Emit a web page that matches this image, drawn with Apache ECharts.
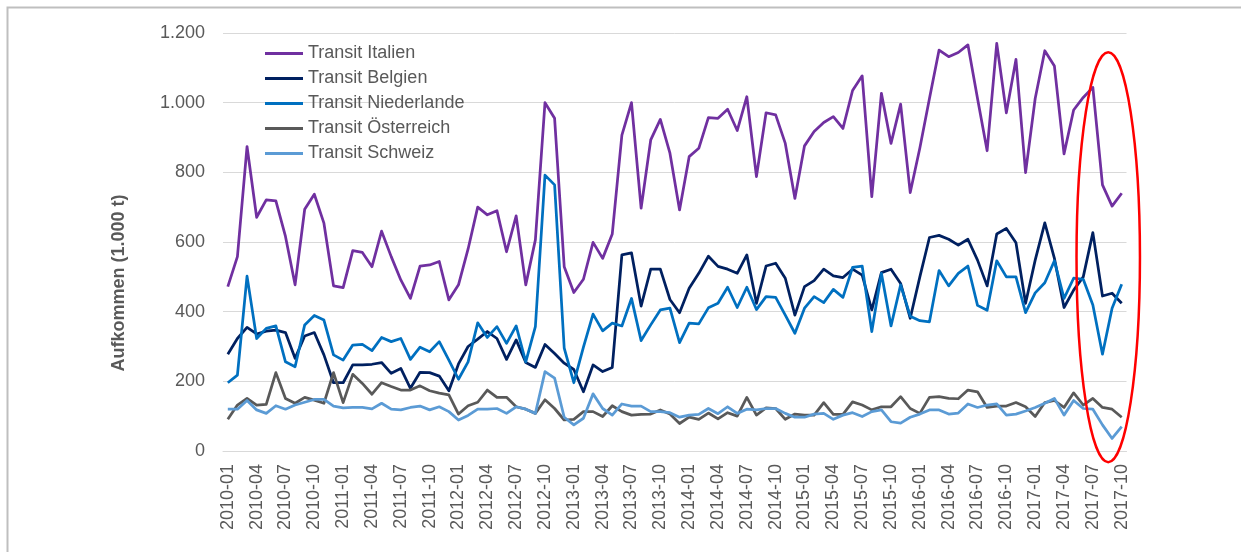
<!DOCTYPE html>
<html>
<head>
<meta charset="utf-8">
<script src="https://cdn.jsdelivr.net/npm/echarts@6/dist/echarts.min.js"></script>
<style>
  html, body { margin: 0; padding: 0; background: #ffffff; }
  #chart { width: 1241px; height: 552px; }
</style>
</head>
<body>
<div id="chart"></div>
<script>
// Monthly categories 2010-01 … 2017-10
const firstYear = 2010;
const monthCount = 94;
const months = [];
for (let i = 0; i < monthCount; i++) {
  const y = firstYear + Math.floor(i / 12);
  const m = (i % 12) + 1;
  months.push(y + '-' + (m < 10 ? '0' + m : m));
}

const seriesNames = ['Transit Italien', 'Transit Belgien', 'Transit Niederlande', 'Transit Österreich', 'Transit Schweiz'];

// Aufkommen in 1.000 t
const italien = [472, 558, 874, 671, 721, 718, 616, 477, 694, 737, 654, 474,
  469, 575, 570, 529, 631, 558, 491, 438, 531, 534, 544, 434,
  477, 580, 700, 678, 690, 572, 675, 477, 606, 1000, 955, 529,
  455, 493, 599, 553, 623, 907, 1000, 697, 893, 952, 855, 692,
  845, 869, 957, 955, 981, 920, 1017, 788, 971, 965, 883, 725,
  876, 917, 943, 960, 926, 1035, 1077, 730, 1027, 883, 996, 742,
  870, 1012, 1151, 1132, 1144, 1166, 1012, 862, 1170, 971, 1124, 799,
  1012, 1149, 1105, 853, 979, 1015, 1044, 764, 703, 740];

const belgien = [278, 323, 355, 336, 344, 347, 340, 266, 330, 340, 276, 196,
  196, 247, 247, 249, 254, 223, 237, 180, 226, 225, 215, 173,
  250, 300, 321, 343, 323, 263, 319, 254, 240, 306, 280, 252,
  234, 170, 247, 228, 240, 563, 569, 416, 522, 522, 435, 397,
  467, 510, 559, 530, 522, 510, 563, 424, 531, 539, 496, 390,
  472, 489, 522, 503, 498, 522, 505, 405, 512, 522, 481, 381,
  500, 613, 619, 608, 591, 608, 548, 474, 623, 639, 598, 424,
  548, 655, 553, 412, 462, 500, 627, 445, 453, 424];

const niederlande = [196, 218, 502, 323, 352, 359, 256, 242, 362, 389, 376, 276,
  261, 304, 306, 288, 326, 314, 323, 263, 298, 285, 314, 261,
  206, 256, 368, 326, 357, 309, 359, 256, 357, 792, 764, 295,
  196, 298, 393, 345, 367, 359, 438, 317, 362, 405, 410, 311,
  367, 365, 411, 424, 470, 412, 470, 406, 443, 441, 390, 338,
  410, 443, 426, 464, 441, 527, 531, 343, 510, 359, 477, 387,
  374, 371, 518, 474, 510, 531, 418, 404, 546, 500, 500, 397,
  454, 483, 546, 438, 496, 493, 419, 278, 410, 479];

const oesterreich = [91, 132, 151, 132, 134, 225, 151, 137, 154, 146, 137, 225,
  139, 220, 194, 163, 196, 185, 175, 175, 187, 173, 166, 161,
  106, 130, 140, 175, 154, 154, 127, 120, 108, 147, 122, 89,
  91, 113, 113, 99, 130, 113, 103, 105, 106, 118, 106, 79,
  97, 91, 109, 92, 110, 100, 154, 103, 124, 122, 91, 106,
  103, 103, 139, 105, 105, 141, 132, 118, 127, 127, 156, 122,
  108, 154, 156, 151, 150, 175, 170, 125, 129, 129, 139, 127,
  99, 139, 145, 125, 167, 132, 151, 125, 120, 97];

const schweiz = [120, 120, 145, 118, 108, 130, 120, 132, 140, 148, 148, 129,
  124, 125, 125, 121, 137, 120, 118, 125, 129, 118, 127, 113,
  89, 102, 120, 120, 122, 108, 127, 120, 108, 228, 209, 97,
  75, 94, 164, 122, 103, 135, 129, 129, 113, 113, 110, 97,
  103, 105, 122, 107, 127, 108, 120, 118, 122, 122, 108, 97,
  97, 106, 108, 91, 103, 110, 99, 113, 118, 84, 80, 97,
  106, 118, 118, 106, 109, 135, 125, 132, 135, 103, 106, 115,
  125, 137, 151, 103, 145, 122, 120, 75, 36, 70];

const seriesData = [italien, belgien, niederlande, oesterreich, schweiz];
const colors = ['#7030a0', '#002060', '#0070c0', '#595959', '#5b9bd5'];

const yMin = 0, yMax = 1200, yStep = 200;
const axisTitle = 'Aufkommen (1.000 t)';

const textColor = '#595959';
const fontFamily = '"Liberation Sans", Arial, sans-serif';

function formatDe(v) {
  return String(v).replace(/\B(?=(\d{3})+(?!\d))/g, '.');
}

const chart = echarts.init(document.getElementById('chart'), null, { renderer: 'canvas' });

const option = {
  backgroundColor: '#ffffff',
  animation: false,
  color: colors,
  grid: { left: 223, top: 33, right: 114.5, bottom: 101, containLabel: false },
  legend: {
    orient: 'vertical',
    left: 260,
    top: 36,
    icon: 'rect',
    itemWidth: 38,
    itemHeight: 3,
    itemGap: 0,
    textStyle: { color: textColor, fontSize: 18, fontFamily: fontFamily, lineHeight: 25 },
    data: seriesNames
  },
  xAxis: {
    type: 'category',
    data: months,
    boundaryGap: true,
    axisTick: { show: false },
    axisLine: { show: true, lineStyle: { color: '#d9d9d9', width: 1 } },
    axisLabel: {
      interval: 2,
      rotate: 90,
      margin: 13,
      color: textColor,
      fontSize: 18,
      fontFamily: fontFamily
    },
    splitLine: { show: false }
  },
  yAxis: {
    type: 'value',
    min: yMin,
    max: yMax,
    interval: yStep,
    axisLine: { show: false },
    axisTick: { show: false },
    axisLabel: {
      margin: 18,
      color: textColor,
      fontSize: 18,
      fontFamily: fontFamily,
      formatter: formatDe
    },
    splitLine: { lineStyle: { color: '#d9d9d9', width: 1 } }
  },
  series: seriesNames.map((name, k) => ({
    name: name,
    type: 'line',
    data: seriesData[k],
    symbol: 'none',
    smooth: false,
    lineStyle: { width: 2.75, color: colors[k], join: 'round' },
    itemStyle: { color: colors[k] },
    z: 2 + k
  }))
};

chart.setOption(option);

// Outer frame, axis title and the highlight ellipse around the latest months
function drawOverlays() {
  const p91 = chart.convertToPixel({ gridIndex: 0 }, [91, 0]);
  const p92 = chart.convertToPixel({ gridIndex: 0 }, [92, 0]);
  const step = p92[0] - p91[0];
  const cx = p91[0] + 0.6 * step;
  const yTop = chart.convertToPixel({ yAxisIndex: 0 }, 1145);
  const yBot = chart.convertToPixel({ yAxisIndex: 0 }, -32);
  const gridTop = chart.convertToPixel({ yAxisIndex: 0 }, yMax);
  const gridBot = chart.convertToPixel({ yAxisIndex: 0 }, yMin);

  chart.setOption({
    graphic: [
      {
        type: 'rect',
        shape: { x: 7.5, y: 7.5, width: 1400, height: 700 },
        style: { fill: 'none', stroke: '#bfbfbf', lineWidth: 2 },
        silent: true,
        z: 0
      },
      {
        type: 'text',
        x: 119,
        y: (gridTop + gridBot) / 2 + 41,
        rotation: Math.PI / 2,
        style: {
          text: axisTitle,
          fill: textColor,
          font: 'bold 18px ' + fontFamily,
          align: 'center',
          verticalAlign: 'middle'
        },
        silent: true
      },
      {
        type: 'ellipse',
        shape: { cx: cx, cy: (yTop + yBot) / 2, rx: step * 3.3, ry: (yBot - yTop) / 2 },
        style: { fill: 'none', stroke: '#ff0000', lineWidth: 2.5 },
        silent: true,
        z: 20
      }
    ]
  });
}
drawOverlays();
</script>
</body>
</html>
